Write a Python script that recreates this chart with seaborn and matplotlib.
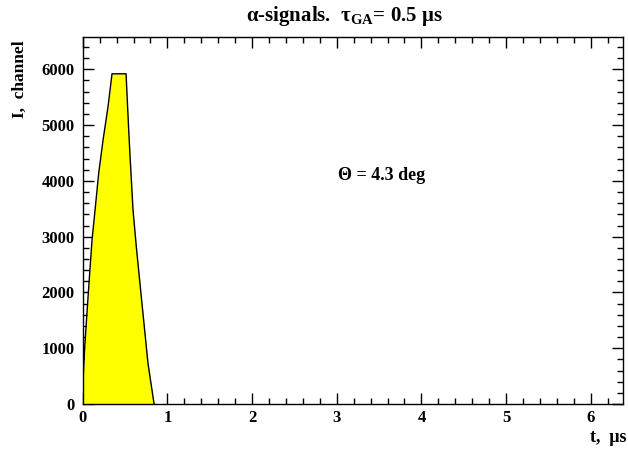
import numpy as np
import pandas as pd
import matplotlib
matplotlib.use("Agg")
import matplotlib.pyplot as plt
import seaborn as sns
from matplotlib.ticker import MultipleLocator

# data
t_us = [0, 0.004, 0.024, 0.063, 0.110, 0.142, 0.189, 0.240, 0.299, 0.346,
        0.512, 0.528, 0.543, 0.557, 0.594, 0.633, 0.692, 0.771, 0.843]
signal = [0, 430, 1030, 1920, 2940, 3420, 4140, 4730, 5330, 5920,
          5920, 5400, 4920, 4500, 3480, 2820, 1920, 730, 0]
x_ticks = [0, 1, 2, 3, 4, 5, 6]
y_ticks = [0, 1000, 2000, 3000, 4000, 5000, 6000]
title = "α-signals.  τ$_{\\mathbf{GA}}$= 0.5 μs"
annotation = "Θ = 4.3 deg"

sns.set_style("ticks")
plt.rcParams["font.family"] = ["Liberation Serif", "DejaVu Serif"]
plt.rcParams["font.weight"] = "bold"
plt.rcParams["text.color"] = "black"
plt.rcParams["xtick.color"] = "black"
plt.rcParams["ytick.color"] = "black"
plt.rcParams["axes.labelcolor"] = "black"
plt.rcParams["mathtext.fontset"] = "custom"
plt.rcParams["mathtext.rm"] = "Liberation Serif"
plt.rcParams["mathtext.bf"] = "Liberation Serif:bold"

df = pd.DataFrame({"t": t_us, "I": signal})

fig = plt.figure(figsize=(6.28, 4.53), dpi=100)
ax = fig.add_axes([0.1317, 0.108, 0.8603, 0.811])

ax.fill_between(df["t"], df["I"], 0, color="#ffff00", linewidth=0, zorder=1)
sns.lineplot(data=df, x="t", y="I", ax=ax, color="black", linewidth=1.0,
             sort=False, estimator=None, zorder=2)

ax.set_xlim(0, 6.38)
ax.set_ylim(0, 6585)
ax.set_xticks(x_ticks)
ax.set_yticks(y_ticks)
ax.set_xticklabels([str(v) for v in x_ticks], fontsize=12, fontweight="bold")
ax.set_yticklabels([str(v) for v in y_ticks], fontsize=12, fontweight="bold")
ax.xaxis.set_minor_locator(MultipleLocator(0.2))
ax.yaxis.set_minor_locator(MultipleLocator(200))
ax.tick_params(which="both", direction="in", top=True, right=True, color="black",
               labelcolor="black")
ax.tick_params(which="major", length=8, width=1.0)
ax.tick_params(which="minor", length=4, width=1.0)
ax.tick_params(axis="y", which="major", pad=6)
ax.tick_params(axis="x", which="major", pad=4)
for s in ax.spines.values():
    s.set_linewidth(1.0)
    s.set_color("black")
ax.set_xlabel("")
ax.set_ylabel("")

ax.text(3.53, 4105, annotation, ha="center", va="center", fontsize=13, fontweight="bold")

fig.text(344 / 628, 1 - 16 / 453, title, ha="center", va="center", fontsize=15, fontweight="bold")
fig.text(19.5 / 628, 1 - 40 / 453, "I,  channel", rotation=90, ha="center", va="top",
         fontsize=12.5, fontweight="bold")
fig.text(627 / 628, 1 - 437 / 453, "t,  μs", ha="right", va="center", fontsize=13, fontweight="bold")

fig.savefig("out.png", dpi=100)
